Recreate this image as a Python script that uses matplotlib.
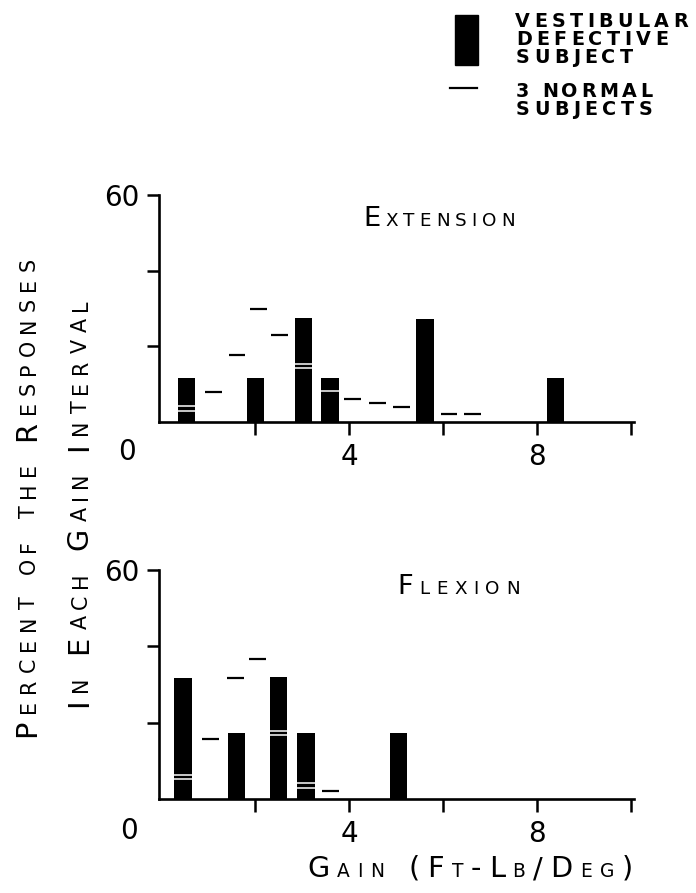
import matplotlib
matplotlib.use('Agg')
import matplotlib.pyplot as plt
from matplotlib.font_manager import FontProperties
from matplotlib.patches import Rectangle
from matplotlib.lines import Line2D
import numpy as np

W, H = 696, 893
FONT = 'DejaVu Sans'

# extension: vestibular defective subject (bars) and 3 normal subjects (dashes)
ext_gain = [0.54, 2.0, 3.02, 3.59, 5.61, 8.38]
ext_pct = [11.7, 11.7, 27.4, 11.7, 27.2, 11.5]
ext_norm_gain = [0.54, 0.54, 1.11, 1.61, 2.07, 2.52, 3.02, 3.02, 3.59, 4.07, 4.59, 5.1, 6.12, 6.62]
ext_norm_pct = [4.1, 2.8, 8.0, 17.8, 30.0, 23.0, 15.2, 14.2, 8.2, 6.2, 5.0, 4.0, 2.2, 2.2]

# flexion
flex_gain = [0.46, 1.6, 2.49, 3.08, 5.05]
flex_pct = [31.6, 17.3, 32.0, 17.3, 17.2]
flex_norm_gain = [0.46, 0.46, 1.05, 1.58, 2.05, 2.49, 2.49, 3.08, 3.08, 3.59]
flex_norm_pct = [6.4, 5.2, 15.6, 31.8, 36.8, 17.9, 16.8, 4.2, 2.8, 2.1]

BAR_W = 0.37
DASH_W = 0.36

fig = plt.figure(figsize=(W / 100, H / 100), dpi=100)
renderer = fig.canvas.get_renderer()


def px(x, y):
    return x / W, 1 - y / H


def lettered(start, end, base, text, size, small=0.68, vertical=False, weight='normal'):
    # stencil-lettering look: capitals full size, lowercase drawn as small caps,
    # letters spread evenly between start and end (pixels)
    chars = [(ch.upper(), size * small if ch.islower() else size) for ch in text]
    widths = []
    for ch, fs in chars:
        if ch == ' ':
            widths.append(fs * 100 / 72 * 0.3)
        else:
            w, _, _ = renderer.get_text_width_height_descent(
                ch, FontProperties(family=FONT, size=fs, weight=weight), ismath=False)
            widths.append(w)
    gap = (abs(end - start) - sum(widths)) / max(len(chars) - 1, 1)
    pos = 0
    for (ch, fs), w in zip(chars, widths):
        if ch != ' ':
            if vertical:
                fig.text(*px(base, start - pos), ch, fontsize=fs, family=FONT, weight=weight,
                         rotation=90, rotation_mode='anchor', ha='left', va='baseline')
            else:
                fig.text(*px(start + pos, base), ch, fontsize=fs, family=FONT, weight=weight,
                         ha='left', va='baseline')
        pos += w + gap


def panel(zero_y, top_y, gain, pct, ngain, npct):
    ax = fig.add_axes([159 / W, 1 - zero_y / H, 474.7 / W, (zero_y - top_y) / H])
    ax.bar(gain, pct, width=BAR_W, color='black')
    ngain = np.array(ngain)
    npct = np.array(npct)
    inside = np.zeros(len(ngain), dtype=bool)
    for g, p in zip(gain, pct):
        inside |= (np.abs(ngain - g) < BAR_W / 2) & (npct < p)
    ax.hlines(npct[~inside], ngain[~inside] - DASH_W / 2, ngain[~inside] + DASH_W / 2,
              colors='black', linewidth=1.6)
    ax.hlines(npct[inside], ngain[inside] - BAR_W / 2, ngain[inside] + BAR_W / 2,
              colors='white', linewidth=1.1)
    ax.set_xlim(-0.05, 10.05)
    ax.set_ylim(0, 60)
    for s in ['top', 'right']:
        ax.spines[s].set_visible(False)
    for s in ['left', 'bottom']:
        ax.spines[s].set_linewidth(1.9)
    ax.set_xticks([2, 4, 6, 8, 10])
    ax.set_xticklabels(['', '4', '', '8', ''])
    ax.set_yticks([20, 40, 60])
    ax.set_yticklabels(['', '', '60'])
    ax.tick_params(axis='x', direction='out', length=9, width=1.8, pad=6, labelsize=20)
    ax.tick_params(axis='y', direction='out', length=9, width=1.8, pad=5, labelsize=20)
    for lab in ax.get_xticklabels() + ax.get_yticklabels():
        lab.set_family(FONT)
    return ax


ax1 = panel(422, 195, ext_gain, ext_pct, ext_norm_gain, ext_norm_pct)
ax2 = panel(799, 570, flex_gain, flex_pct, flex_norm_gain, flex_norm_pct)

fig.text(*px(127, 452), '0', fontsize=20, family=FONT, ha='center', va='center')
fig.text(*px(129, 831), '0', fontsize=20, family=FONT, ha='center', va='center')

lettered(363, 515, 225.6, 'Extension', 19.7, small=0.67)
lettered(397, 520, 594, 'Flexion', 19.7, small=0.67)
lettered(307, 633, 877, 'Gain (Ft-Lb/Deg)', 20.7, small=0.65)
lettered(737, 258, 35, 'Percent of the Responses', 20.7, small=0.72, vertical=True)
lettered(707, 300, 87, 'In Each Gain Interval', 20.7, small=0.72, vertical=True)

# legend
fig.add_artist(Rectangle(px(455, 65), 23 / W, 50 / H, color='black'))
fig.add_artist(Line2D([450 / W, 477 / W], [1 - 88 / H] * 2, color='black', linewidth=1.6))
lettered(515, 688, 27, 'VESTIBULAR', 13.8, weight='bold')
lettered(516, 668, 45, 'DEFECTIVE', 13.8, weight='bold')
lettered(516, 633, 63, 'SUBJECT', 13.8, weight='bold')
lettered(516, 652, 97, '3 NORMAL', 13.8, weight='bold')
lettered(516, 652, 115, 'SUBJECTS', 13.8, weight='bold')

fig.savefig('out.png', dpi=100)
